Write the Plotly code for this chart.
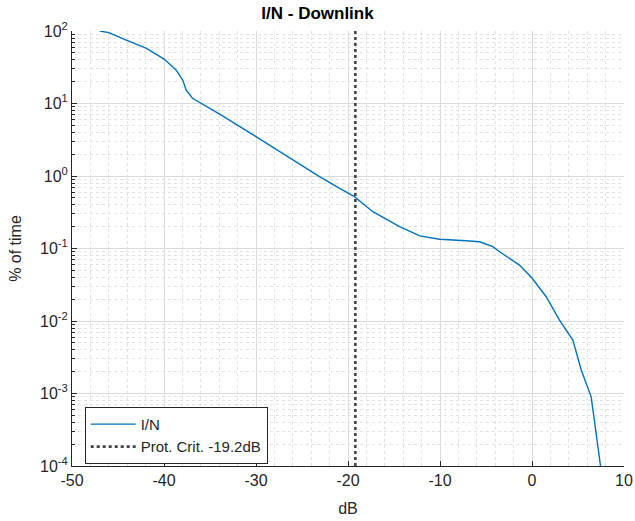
import plotly.graph_objects as go

# I/N distribution (percent of time exceeded vs. I/N in dB)
in_db = [-47.0, -46.0, -44.1, -41.9, -39.95, -38.7, -37.96, -37.6, -36.9, -34.0,
         -30.0, -23.1, -20.9, -19.3, -17.3, -14.4, -12.2, -10.05, -7.15, -5.7,
         -4.26, -3.53, -1.36, 0.02, 1.54, 2.99, 4.44, 5.35, 6.43, 7.45]
pct_time = [100, 94.8, 75, 57.7, 40.7, 29, 21.1, 15.4, 11.8, 7.2,
            3.5, 0.98, 0.676, 0.519, 0.322, 0.2, 0.149, 0.134, 0.128, 0.124,
            0.106, 0.0903, 0.059, 0.0388, 0.0216, 0.0103, 0.00547, 0.00211, 0.0009, 0.0001]

prot_crit = -19.2
x_ticks = [-50, -40, -30, -20, -10, 0, 10]
y_exps = [-4, -3, -2, -1, 0, 1, 2]

FONT = "Liberation Sans, Arial, sans-serif"
AX = "#262626"

fig = go.Figure()
fig.add_trace(go.Scatter(
    x=in_db, y=pct_time, mode="lines", name="I/N",
    line=dict(color="#0072BD", width=1.4),
))
fig.add_trace(go.Scatter(
    x=[prot_crit, prot_crit], y=[10.0 ** y_exps[0], 10.0 ** y_exps[-1]],
    mode="lines", name=f"Prot. Crit. {prot_crit}dB",
    line=dict(color="#444444", width=2.6, dash="dot"),
))

minor_y = [m * 10.0 ** e for e in y_exps[:-1] for m in range(2, 10)]
minor_x = [v for v in range(x_ticks[0], x_ticks[-1] + 1, 2) if v % 10 != 0]

fig.update_layout(
    width=635, height=521,
    margin=dict(l=72, r=11, t=31, b=55),
    paper_bgcolor="white", plot_bgcolor="white",
    font=dict(family=FONT, size=16, color=AX),
    title=dict(text="<b>I/N - Downlink</b>", x=0.5, xanchor="center",
               y=1 - 13 / 521, yanchor="middle",
               font=dict(family=FONT, size=17, color="black")),
    showlegend=True,
    legend=dict(
        x=0.023, y=0.136, xanchor="left", yanchor="top",
        bgcolor="white", bordercolor=AX, borderwidth=1,
        font=dict(family=FONT, size=15, color=AX),
        tracegroupgap=0, itemwidth=45,
    ),
)

fig.update_xaxes(
    range=[x_ticks[0], x_ticks[-1]], tickvals=x_ticks,
    ticktext=[str(v) for v in x_ticks], automargin=False,
    ticks="inside", ticklen=5, tickcolor=AX, tickfont=dict(size=16, color=AX),
    showline=True, linecolor=AX, linewidth=1, mirror=False,
    showgrid=True, gridcolor="#dadada", gridwidth=1, zeroline=False,
    minor=dict(tickvals=minor_x, showgrid=True, gridcolor="#e2e2e2",
               griddash="dot", gridwidth=1, ticks=""),
    title=dict(text="dB", font=dict(size=16, color=AX), standoff=14),
)
fig.update_yaxes(
    type="log", range=[y_exps[0], y_exps[-1]], automargin=False,
    tickvals=[10.0 ** e for e in y_exps],
    ticktext=[f"10<sup>{e}</sup>" for e in y_exps],
    ticks="inside", ticklen=5, tickcolor=AX, tickfont=dict(size=16, color=AX),
    showline=True, linecolor=AX, linewidth=1, mirror=False,
    showgrid=True, gridcolor="#dadada", gridwidth=1, zeroline=False,
    minor=dict(tickvals=minor_y, showgrid=True, gridcolor="#e2e2e2",
               griddash="dot", gridwidth=1, ticks="inside", ticklen=3,
               tickcolor=AX),
    title=dict(text="% of time", font=dict(size=16, color=AX), standoff=14),
)

fig.write_html("out.html")
